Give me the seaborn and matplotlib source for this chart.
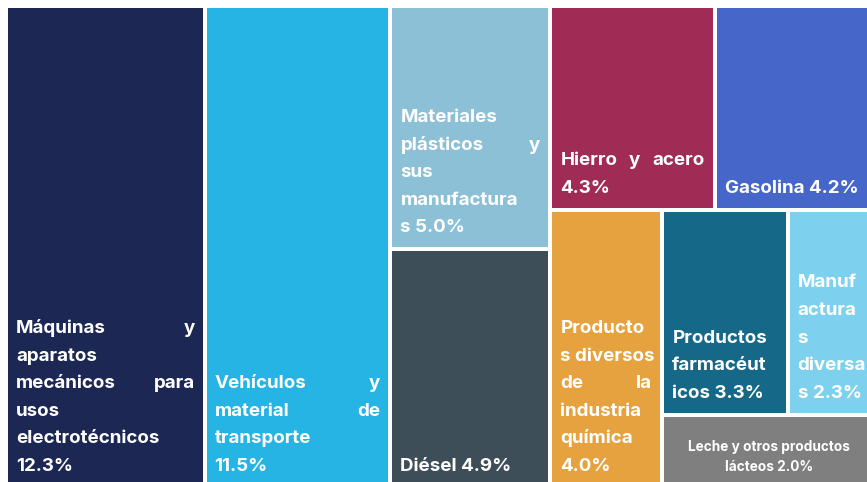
import matplotlib
matplotlib.use("Agg")
import matplotlib.pyplot as plt
import seaborn as sns
from matplotlib.patches import Rectangle

# data
labels = [
    "Máquinas y\naparatos\nmecánicos para\nusos\nelectrotécnicos\n{}",
    "Vehículos y\nmaterial de\ntransporte\n{}",
    "Materiales\nplásticos y\nsus\nmanufactura\ns {}",
    "Diésel {}",
    "Hierro y acero\n{}",
    "Gasolina {}",
    "Producto\ns diversos\nde la\nindustria\nquímica\n{}",
    "Productos\nfarmacéut\nicos {}",
    "Manuf\nactura\ns\ndiversa\ns {}",
    "Leche y otros productos\nlácteos {}",
]
values = [12.3, 11.5, 5.0, 4.9, 4.3, 4.2, 4.0, 3.3, 2.3, 2.0]
colors = ["#1c2754", "#25b4e3", "#8bc0d7", "#3e4e58", "#a02c55",
          "#4666c9", "#e6a23f", "#156887", "#7ed1ee", "#7f7f7f"]
small = [9]  # centred, smaller label

# how the tiles are nested: "h" = side by side, "v" = stacked
tree = ("h", [0, 1, ("v", [2, 3]),
              ("v", [("h", [4, 5]),
                     ("h", [6, ("v", [("h", [7, 8]), 9])])])])

FONT = "Inter"
sns.set_theme(style="white")
plt.rcParams["font.family"] = [FONT, "DejaVu Sans"]


def total(node):
    if isinstance(node, int):
        return values[node]
    return sum(total(k) for k in node[1])


def layout(node, x, y, w, h, out):
    if isinstance(node, int):
        out[node] = (x, y, w, h)
        return
    kind, kids = node
    s = total(node)
    for k in kids:
        f = total(k) / s
        if kind == "h":
            layout(k, x, y, w * f, h, out)
            x += w * f
        else:
            layout(k, x, y, w, h * f, out)
            y += h * f


fig = plt.figure(figsize=(8.67, 4.82), dpi=100)
ax = fig.add_axes([0, 0, 1, 1])
ax.set_xlim(0, 867)
ax.set_ylim(482, 0)
ax.axis("off")
renderer = fig.canvas.get_renderer()

rects = {}
layout(tree, 6, 6, 869, 482, rects)
gap = 2
pal = sns.color_palette(colors)
W = "bold"


def width_of(s, size):
    t = ax.text(0, 0, s, fontsize=size, fontweight=W)
    w = t.get_window_extent(renderer).width
    t.remove()
    return w


for i, (x, y, w, h) in rects.items():
    x0, y0, w0, h0 = x + gap, y + gap, w - 2 * gap, h - 2 * gap
    ax.add_patch(Rectangle((x0, y0), w0, h0, facecolor=pal[i], edgecolor="none"))
    lines = labels[i].format(f"{values[i]:.1f}%").split("\n")
    if i in small:
        size, pitch = 9.8, 20
    else:
        size, pitch = 13.5, 27.6
    base = y0 + h0 - 15
    for j, line in enumerate(lines):
        yy = base - (len(lines) - 1 - j) * pitch
        if i in small:
            ax.text(x0 + w0 / 2, yy, line, fontsize=size, fontweight=W,
                    color="white", ha="center", va="baseline")
            continue
        words = line.split()
        left, avail = x0 + 8, w0 - 16
        natural = width_of(line, size)
        if len(words) > 1 and j < len(lines) - 1 and natural < avail:
            ws = [width_of(wd, size) for wd in words]
            sp = (avail - sum(ws)) / (len(words) - 1)
            xx = left
            for wd, ww in zip(words, ws):
                ax.text(xx, yy, wd, fontsize=size, fontweight=W,
                        color="white", ha="left", va="baseline")
                xx += ww + sp
        else:
            ax.text(left, yy, line, fontsize=size, fontweight=W,
                    color="white", ha="left", va="baseline")

fig.savefig("out.png", dpi=100)
